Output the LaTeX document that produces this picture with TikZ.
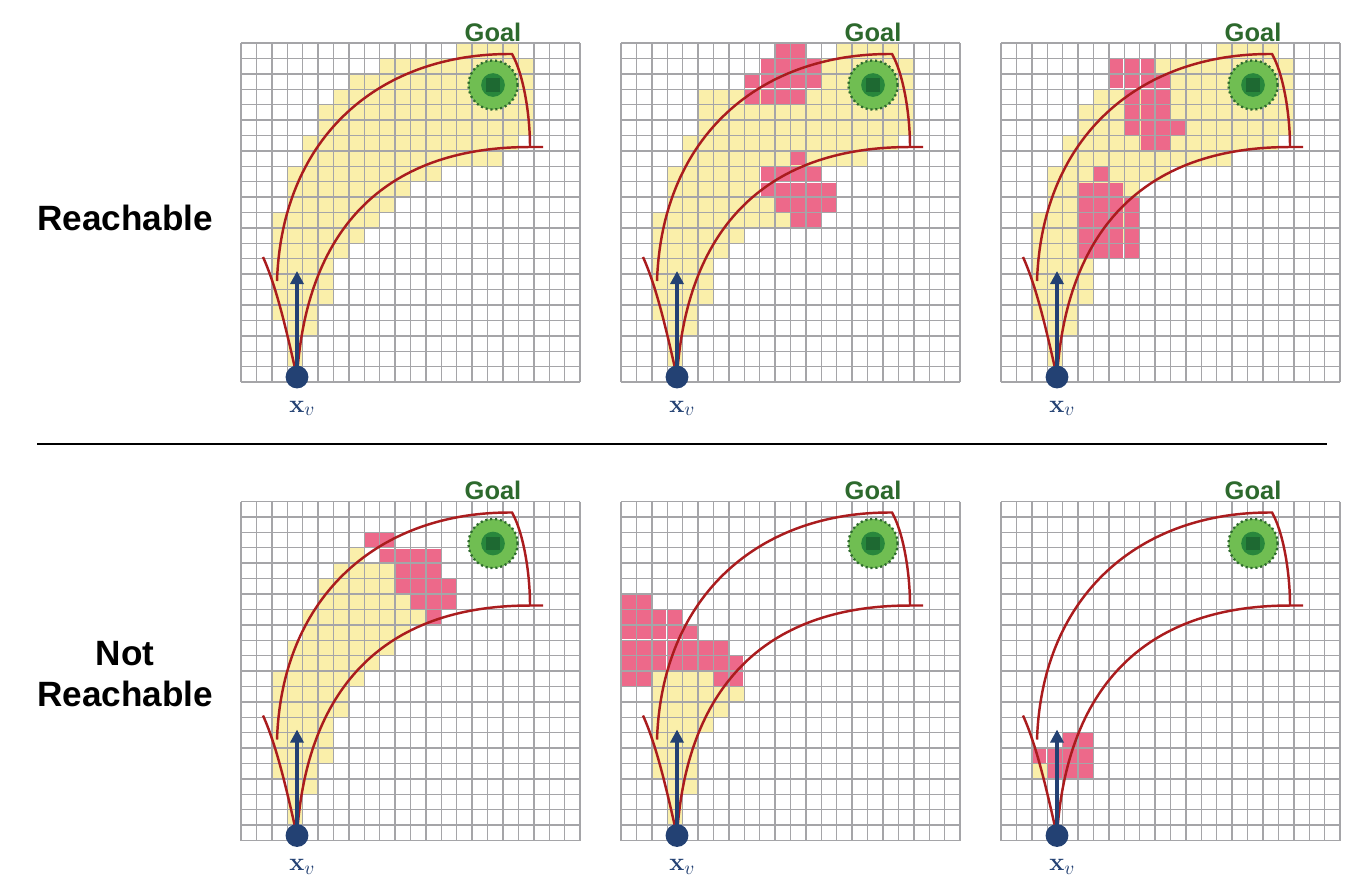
\documentclass[tikz,border=0pt]{standalone}
\usepackage[no-math]{fontspec}
\setmainfont{Liberation Sans}
\usetikzlibrary{arrows.meta}
\definecolor{gridgray}{RGB}{165,165,168}
\definecolor{yel}{RGB}{250,239,170}
\definecolor{pnk}{RGB}{237,105,138}
\definecolor{redc}{RGB}{170,28,30}
\definecolor{navy}{RGB}{35,65,115}
\definecolor{goalg}{RGB}{45,105,45}
\definecolor{lgreen}{RGB}{112,190,82}
\definecolor{mgreen}{RGB}{40,135,60}
\definecolor{dgreen}{RGB}{30,105,50}
\def\cs{15.41}
\tikzset{
 yelcell/.style={fill=yel},
 pinkcell/.style={fill=pnk},
 gridline/.style={draw=gridgray, line width=0.8pt},
 redline/.style={draw=redc, line width=1.4pt},
 vehicle/.style={circle, fill=navy, minimum size=13pt, inner sep=0pt},
 headarrow/.style={draw=navy, line width=2pt, -{Triangle[length=7.5pt,width=7.5pt]}},
 goalring/.style={circle, fill=lgreen, draw=goalg, line width=1.3pt, dash pattern=on 1.2pt off 1.6pt, minimum size=28pt, inner sep=0pt},
 goalcore/.style={circle, fill=mgreen, minimum size=13.5pt, inner sep=0pt},
 goalsq/.style={fill=dgreen, minimum size=7.5pt, inner sep=0pt},
 goaltext/.style={text=goalg, font=\fontsize{14.5}{16}\selectfont\bfseries},
 rowlabel/.style={font=\fontsize{20}{23.2}\selectfont\bfseries, align=center},
 vlabel/.style={text=navy, font=\fontsize{15}{17}\selectfont, anchor=base west, inner sep=0pt},
}
\newcommand{\drawpanel}[5]{%
 \begin{scope}[shift={(#2,#3)}]
  \foreach \yr/\ya/\yb in {#4}{\foreach \k in {\ya,...,\yb}{\fill[yelcell] ({\k*\cs},{\yr*\cs}) rectangle ++(\cs,\cs);}}
  \foreach \yr/\ya/\yb in {#5}{\foreach \k in {\ya,...,\yb}{\fill[pinkcell] ({\k*\cs+0.8},{\yr*\cs+0.8}) rectangle ++(\cs-1.6,\cs-1.6);}}
  \foreach \k in {0,...,22}{\draw[gridline] ({\k*\cs},0) -- ({\k*\cs},{22*\cs}); \draw[gridline] (0,{\k*\cs}) -- ({22*\cs},{\k*\cs});}
  \node[goalring] (goal#1) at (252,42) {};
  \node[goalcore] (core#1) at (goal#1.center) {};
  \node[goalsq] (sq#1) at (goal#1.center) {};
  \node[goaltext] (goallab#1) at (252,-11) {Goal};
  \draw[redline] (36,238) .. controls (41,92) and (140,10) .. (271,11) .. controls (282,30) and (289,70) .. (289,104);
  \draw[redline] (56,334) .. controls (65,190) and (140,104) .. (289,104) -- (302,104);
  \draw[redline] (56,334) .. controls (46,290) and (36,245) .. (22,214);
  \node[vehicle] (veh#1) at (56,334) {};
  \coordinate (tip#1) at (56,228);
  \draw[headarrow] (veh#1.center) -- (tip#1);
  \node[vlabel] (xv#1) at (48,369) {$\mathbf{x}_{v}$};
 \end{scope}}
\begin{document}
\begin{tikzpicture}[x=0.02cm, y=-0.02cm]
\useasboundingbox (0,0) rectangle (1358,894);
\fill[white] (0,0) rectangle (1358,894);
\drawpanel{a}{241}{43}
 {0/14/17,1/9/18,2/7/18,3/6/18,4/5/18,5/5/18,6/4/17,7/4/16,8/3/12,9/3/10,10/3/9,11/2/8,12/2/7,13/2/6,14/2/5,15/2/5,16/2/5,17/2/4,18/3/4,19/3/3,20/3/3}
 {}
\drawpanel{b}{621}{43}
 {0/14/17,1/13/18,2/13/18,3/5/18,4/5/18,5/5/18,6/4/17,7/4/15,8/3/8,9/3/8,10/3/9,11/2/10,12/2/7,13/2/6,14/2/5,15/2/5,16/2/5,17/2/4,18/3/4,19/3/3,20/3/3}
 {0/10/11,1/9/12,2/8/12,3/8/11,7/11/11,8/9/12,9/9/13,10/10/13,11/11/12}
\drawpanel{c}{1001}{43}
 {0/14/17,1/10/18,2/11/18,3/6/18,4/5/18,5/5/18,6/4/17,7/4/14,8/3/10,9/3/8,10/3/8,11/2/8,12/2/8,13/2/6,14/2/5,15/2/5,16/2/5,17/2/4,18/3/4,19/3/3,20/3/3}
 {1/7/9,2/7/10,3/8/10,4/8/10,5/8/11,6/9/10,8/6/6,9/5/7,10/5/8,11/5/8,12/5/8,13/5/8}
\drawpanel{d}{241}{501.5}
 {3/7/7,4/6/9,5/5/9,6/5/10,7/4/11,8/4/10,9/3/9,10/3/8,11/2/7,12/2/6,13/2/6,14/2/5,15/2/5,16/2/5,17/2/4,18/3/4,19/3/3,20/3/3}
 {2/8/9,3/9/12,4/10/12,5/10/13,6/11/13,7/12/12}
\drawpanel{e}{621}{501.5}
 {11/2/6,12/2/7,13/2/6,14/2/5,15/2/4,16/2/4,17/2/4,18/3/4,19/3/3,20/3/3}
 {6/0/1,7/0/3,8/0/4,9/0/6,10/0/7,11/0/1,11/6/7}
\drawpanel{f}{1001}{501.5}
 {17/2/2}
 {15/4/5,16/2/5,17/3/5}
\node[rowlabel] (reach) at (125,218) {Reachable};
\node[rowlabel] (notreach) at (125,674) {Not\\Reachable};
\draw[line width=0.9pt] (37,444) -- (1327,444);
\end{tikzpicture}
\end{document}
